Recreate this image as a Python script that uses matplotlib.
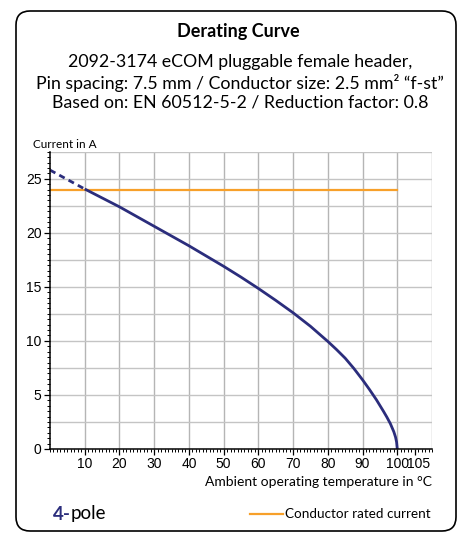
import numpy as np
import matplotlib.pyplot as plt
from matplotlib.patches import FancyBboxPatch
from matplotlib.ticker import MultipleLocator
from matplotlib.transforms import ScaledTranslation

# derating curve, read at ambient temperature steps
temp = [10, 20, 30, 40, 50, 55, 60, 65, 70, 75, 80, 82.5, 85, 87.5, 90,
        92, 94, 96, 97, 98, 99, 99.5, 99.8, 100]
current = [24.05, 22.4, 20.6, 18.8, 16.9, 15.9, 14.85, 13.75, 12.6, 11.35, 9.95, 9.2, 8.4, 7.45, 6.4,
           5.5, 4.55, 3.5, 2.95, 2.35, 1.6, 1.1, 0.65, 0]

# extrapolated part below 10 °C
temp_extrap = [0, 10]
current_extrap = [25.8, 24.05]

# conductor rated current
rated_temp = [0, 100]
rated_current = [24, 24]

x_ticks = [10, 20, 30, 40, 50, 60, 70, 80, 90, 100, 105]
y_ticks = [0, 5, 10, 15, 20, 25]

navy = '#2b2d7c'
orange = '#f7a02a'
grid_c = '#b5b5b5'
W, H = 465, 534

title_font = 'Lato'
tick_font = ['Liberation Sans Narrow', 'Liberation Sans']

fig = plt.figure(figsize=(W / 100, H / 100), dpi=100)

def fx(px):
    return px / W

def fy(py):
    return 1 - py / H

# rounded frame around everything
frame = FancyBboxPatch((0.16, 0.03), 4.40, 5.20, boxstyle='round,pad=0,rounding_size=0.14',
                       transform=fig.dpi_scale_trans, facecolor='none', edgecolor='black',
                       linewidth=1.2, zorder=-1)
fig.patches.append(frame)

fig.text(fx(238), fy(31), 'Derating Curve', ha='center', va='center',
         fontsize=13, fontweight='bold', family=title_font)
subtitle = ['2092-3174 eCOM pluggable female header,',
            'Pin spacing: 7.5 mm / Conductor size: 2.5 mm² “f-st”',
            'Based on: EN 60512-5-2 / Reduction factor: 0.8']
for i, line in enumerate(subtitle):
    fig.text(fx(240), fy(62 + i * 20.5), line, ha='center', va='center',
             fontsize=12.8, family=title_font)

ax = fig.add_axes([fx(50), fy(449), fx(432) - fx(50), fy(151.7) - fy(449)])
ax.patch.set_alpha(0)
ax.set_xlim(0, 110)
ax.set_ylim(0, 27.5)

for gx in range(10, 111, 10):
    ax.axvline(gx, color=grid_c, lw=1, zorder=1)
for gy in np.arange(2.5, 27.6, 2.5):
    ax.axhline(gy, color='#c4c4c4', lw=1, zorder=1)

ax.plot(rated_temp, rated_current, color=orange, lw=1.6, zorder=3)
ax.plot(temp_extrap, current_extrap, color=navy, lw=2, ls=(0, (2.2, 1.6)), zorder=4)
ax.plot(temp, current, color=navy, lw=2, zorder=4, solid_capstyle='butt')

for s in ['top', 'right']:
    ax.spines[s].set_visible(False)
for s in ['left', 'bottom']:
    ax.spines[s].set_linewidth(1.1)
    ax.spines[s].set_zorder(5)

ax.set_xticks(x_ticks)
ax.set_yticks(y_ticks)
ax.xaxis.set_minor_locator(MultipleLocator(1))
ax.yaxis.set_minor_locator(MultipleLocator(0.5))
ax.tick_params(which='major', length=4, width=0.9, pad=2)
ax.tick_params(which='minor', length=2, width=0.7)
for lab in ax.get_xticklabels() + ax.get_yticklabels():
    lab.set_family(tick_font)
    lab.set_fontsize(10)
# the 105 label sits a little to the right of 100
last = ax.get_xticklabels()[-1]
last.set_transform(last.get_transform() + ScaledTranslation(4 / 100, 0, fig.dpi_scale_trans))

fig.text(fx(33), fy(144), 'Current in A', ha='left', va='center', fontsize=8.5, family=title_font)
fig.text(fx(432), fy(482), 'Ambient operating temperature in °C', ha='right', va='center',
         fontsize=10, family=title_font)

# pole count and legend entry
fig.text(fx(53), fy(514), '4-', ha='left', va='center', fontsize=13.5,
         fontweight='bold', color=navy, family=title_font)
fig.text(fx(71), fy(514), 'pole', ha='left', va='center', fontsize=13.5, family=title_font)
fig.add_artist(plt.Line2D([fx(250), fx(283)], [fy(514), fy(514)], color=orange, lw=1.6,
                          transform=fig.transFigure))
fig.text(fx(285), fy(514), 'Conductor rated current', ha='left', va='center',
         fontsize=9.7, family=title_font)

fig.savefig('out.png', dpi=100)
